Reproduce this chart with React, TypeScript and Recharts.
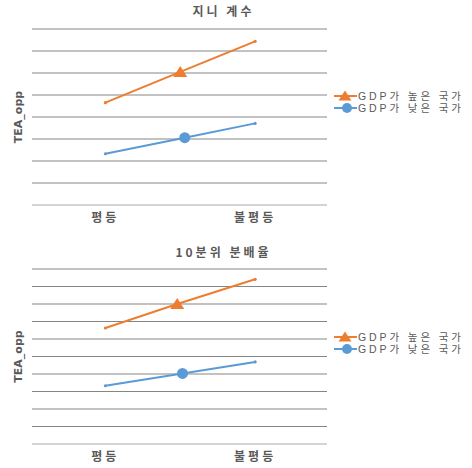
import React from "react";
import {
  CartesianGrid,
  Legend,
  Line,
  LineChart,
  XAxis,
  YAxis,
} from "recharts";

// x categories: 0 = 평등, 1 = 불평등
const levels = ["평등", "불평등"];
const seriesNames = ["GDP가 높은 국가", "GDP가 낮은 국가"];

// 지니 계수 panel
const giniHigh = [4.65, 6.05, 7.44];
const giniLow = [2.33, 3.06, 3.71];
const giniHighMid = 0.5;
const giniLowMid = 0.53;

// 10분위 분배율 panel
const decileHigh = [6.63, 8.0, 9.41];
const decileLow = [3.33, 4.03, 4.69];
const decileHighMid = 0.48;
const decileLowMid = 0.515;

const ORANGE = "#ED7D31";
const BLUE = "#5B9BD5";
const TEXT = "#595959";
const FONT = "'Noto Sans CJK KR', 'Noto Sans', sans-serif";
const LEGEND_FONT = "'Liberation Sans', 'Noto Sans CJK KR', sans-serif";

type Pt = { x: number; y: number };

const toPoints = (vals: number[], mid: number): Pt[] => [
  { x: 0, y: vals[0] },
  { x: mid, y: vals[1] },
  { x: 1, y: vals[2] },
];

// y ticks only drive the gridlines, no labels
const EmptyTick = () => <g />;

function makeDot(color: string, shape: "triangle" | "circle") {
  return (props: any) => {
    const { cx, cy, index } = props;
    if (cx == null || cy == null) return <g key={`d-${index}`} />;
    if (index !== 1) {
      return <circle key={`d-${index}`} cx={cx} cy={cy} r={1.6} fill={color} />;
    }
    if (shape === "triangle") {
      return (
        <path
          key={`d-${index}`}
          d={`M${cx},${cy - 6} L${cx + 7},${cy + 5} L${cx - 7},${cy + 5} Z`}
          fill={color}
        />
      );
    }
    return <circle key={`d-${index}`} cx={cx} cy={cy} r={5.5} fill={color} />;
  };
}

function LegendBox() {
  const items = [
    { name: seriesNames[0], color: ORANGE, shape: "triangle" },
    { name: seriesNames[1], color: BLUE, shape: "circle" },
  ];
  return (
    <div style={{ fontFamily: LEGEND_FONT }}>
      {items.map((it) => (
        <div
          key={it.name}
          style={{ display: "flex", alignItems: "center", height: 12 }}
        >
          <svg width={25} height={12} style={{ flex: "none" }}>
            <line x1={1} y1={6} x2={24} y2={6} stroke={it.color} strokeWidth={2} />
            {it.shape === "triangle" ? (
              <path d="M12,0.5 L18.5,10.5 L5.5,10.5 Z" fill={it.color} />
            ) : (
              <circle cx={14} cy={6} r={5} fill={it.color} />
            )}
          </svg>
          <div
            style={{
              fontSize: 10.5,
              color: TEXT,
              letterSpacing: 2.9,
              whiteSpace: "nowrap",
              lineHeight: "12px",
              height: 12,
            }}
          >
            {it.name}
          </div>
        </div>
      ))}
    </div>
  );
}

interface PanelProps {
  high: Pt[];
  low: Pt[];
  yMax: number;
  top: number;
  axisHeight: number;
  legendTop: number;
}

function Panel({ high, low, yMax, top, axisHeight, legendTop }: PanelProps) {
  const ticks = Array.from({ length: yMax }, (_, i) => i + 1);
  return (
    <LineChart
      width={472}
      height={234}
      margin={{ top, right: 145, left: 0, bottom: 0 }}
    >
      <CartesianGrid horizontal vertical={false} stroke="#858585" />
      <XAxis
        type="number"
        dataKey="x"
        domain={[-0.49, 1.48]}
        ticks={[0, 1]}
        tickFormatter={(v: number) => levels[v]}
        tickLine={false}
        axisLine={{ stroke: "#e6e6e6" }}
        height={axisHeight}
        tick={{
          fill: TEXT,
          fontSize: 12,
          fontWeight: 700,
          fontFamily: FONT,
          letterSpacing: 3,
        }}
        allowDuplicatedCategory={false}
      />
      <YAxis
        type="number"
        domain={[0, yMax]}
        ticks={ticks}
        interval={0}
        width={32}
        tick={EmptyTick}
        tickLine={false}
        axisLine={false}
        label={{
          value: "TEA_opp",
          angle: -90,
          position: "center",
          dx: 2,
          fill: TEXT,
          fontSize: 11,
          fontWeight: 700,
          fontFamily: "'DejaVu Sans', sans-serif",
        }}
      />
      <Legend
        layout="horizontal"
        verticalAlign="middle"
        align="center"
        content={() => <LegendBox />}
        wrapperStyle={{ left: 333, top: legendTop, width: 139 }}
      />
      <Line
        data={high}
        dataKey="y"
        name={seriesNames[0]}
        stroke={ORANGE}
        strokeWidth={2}
        dot={makeDot(ORANGE, "triangle")}
        activeDot={false}
        isAnimationActive={false}
      />
      <Line
        data={low}
        dataKey="y"
        name={seriesNames[1]}
        stroke={BLUE}
        strokeWidth={2}
        dot={makeDot(BLUE, "circle")}
        activeDot={false}
        isAnimationActive={false}
      />
    </LineChart>
  );
}

const titleStyle: React.CSSProperties = {
  position: "absolute",
  left: 0,
  width: 447,
  textAlign: "center",
  fontFamily: FONT,
  fontSize: 12,
  fontWeight: 700,
  color: TEXT,
  letterSpacing: 3,
  lineHeight: "14px",
};

export default function App() {
  return (
    <div
      style={{
        position: "absolute",
        left: 0,
        top: 0,
        width: 472,
        height: 468,
        background: "#fff",
        overflow: "hidden",
      }}
    >
      <div style={{ position: "absolute", left: 0, top: 0 }}>
        <Panel
          high={toPoints(giniHigh, giniHighMid)}
          low={toPoints(giniLow, giniLowMid)}
          yMax={8}
          top={29}
          axisHeight={29}
          legendTop={90}
        />
      </div>
      <div style={{ position: "absolute", left: 0, top: 234 }}>
        <Panel
          high={toPoints(decileHigh, decileHighMid)}
          low={toPoints(decileLow, decileLowMid)}
          yMax={10}
          top={35}
          axisHeight={24}
          legendTop={97}
        />
      </div>
      <div style={{ ...titleStyle, top: 4 }}>지니 계수</div>
      <div style={{ ...titleStyle, top: 245 }}>10분위 분배율</div>
    </div>
  );
}
